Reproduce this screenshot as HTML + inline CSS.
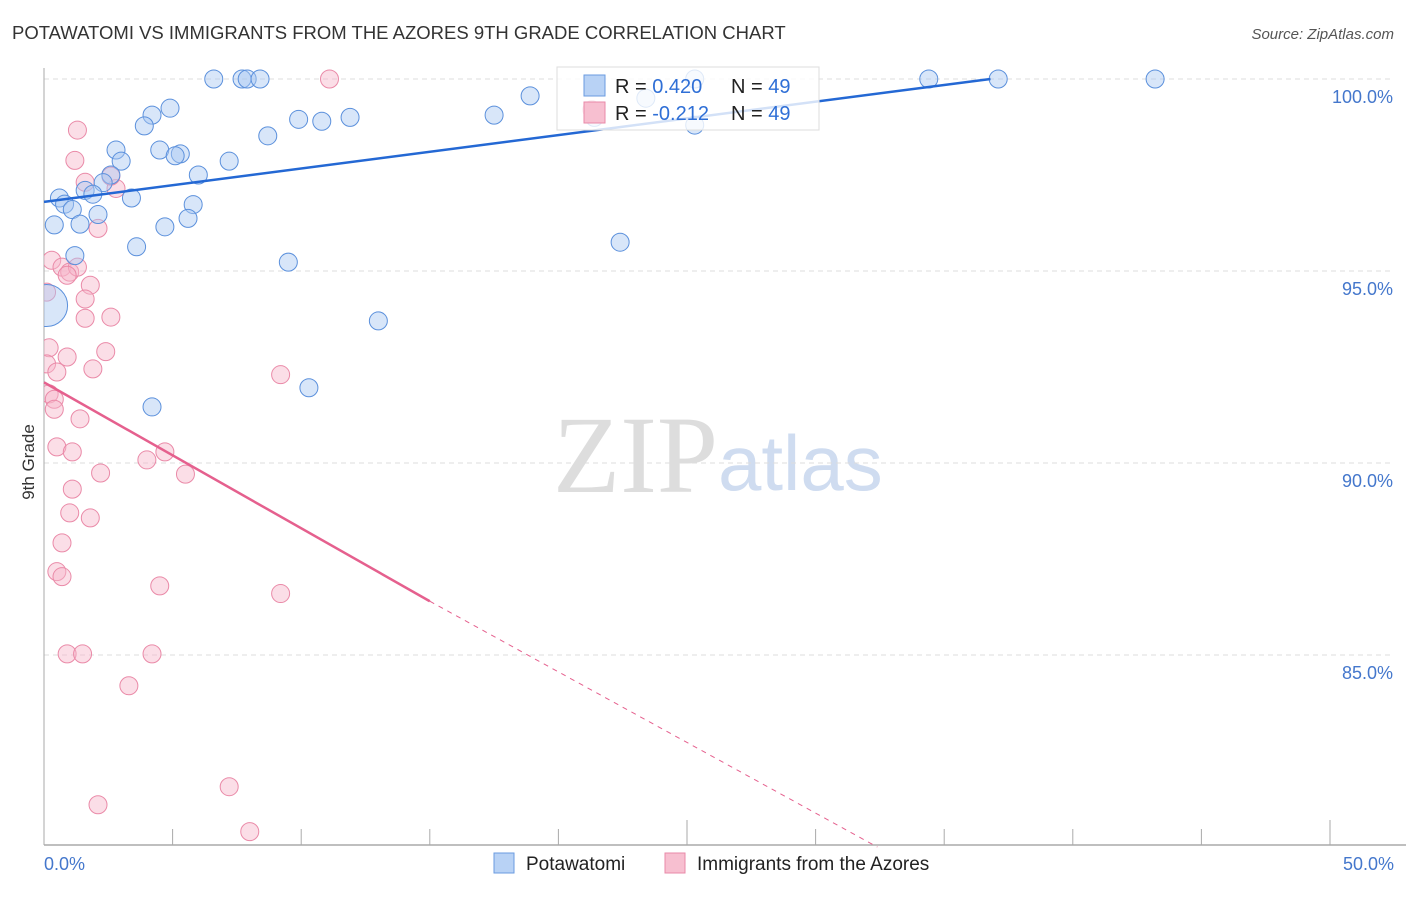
<!DOCTYPE html>
<html><head><meta charset="utf-8"><style>
body{margin:0;background:#fff;font-family:"Liberation Sans",sans-serif}
svg text{font-family:"Liberation Sans",sans-serif}
</style></head><body>
<svg id="c" width="1406" height="892">
<defs><clipPath id="pc"><rect x="44" y="0" width="1362" height="845"/></clipPath></defs>
<text x="12" y="39" font-size="18.5" fill="#333">POTAWATOMI VS IMMIGRANTS FROM THE AZORES 9TH GRADE CORRELATION CHART</text>
<text x="1394" y="39" font-size="15" fill="#555" font-style="italic" text-anchor="end">Source: ZipAtlas.com</text>
<text x="34" y="462" font-size="17" fill="#333" transform="rotate(-90 34 462)" text-anchor="middle">9th Grade</text>
<text x="553" y="492" font-size="110" fill="#ddd" style="font-family:'Liberation Serif',serif">ZIP</text>
<text x="718" y="490" font-size="78" fill="#cfdcf0">atlas</text>
<g id="grid"></g><g id="axes"></g><g id="pts" clip-path="url(#pc)"></g><g id="lines"></g>
<g>
<rect x="557" y="67" width="262" height="63" fill="#fff" fill-opacity="0.8" stroke="#ddd"/>
<rect x="584" y="75" width="21" height="21" fill="#b8d2f5" stroke="#6a9be0"/>
<rect x="584" y="102" width="21" height="21" fill="#f7bfd0" stroke="#e88aa8"/>
<text x="615" y="93" font-size="20" fill="#222">R = <tspan fill="#2f6fd6">0.420</tspan></text>
<text x="731" y="93" font-size="20" fill="#222">N = <tspan fill="#2f6fd6">49</tspan></text>
<text x="615" y="120" font-size="20" fill="#222">R = <tspan fill="#2f6fd6">-0.212</tspan></text>
<text x="731" y="120" font-size="20" fill="#222">N = <tspan fill="#2f6fd6">49</tspan></text>
</g>
<g>
<rect x="494" y="853" width="20" height="20" fill="#b8d2f5" stroke="#6a9be0"/>
<text x="526" y="870" font-size="19" fill="#222">Potawatomi</text>
<rect x="665" y="853" width="20" height="20" fill="#f7bfd0" stroke="#e88aa8"/>
<text x="697" y="870" font-size="19" fill="#222">Immigrants from the Azores</text>
</g>
</svg>
<script>
const yTicks=[100,95,90,85];
const yTickLabels=["100.0%","95.0%","90.0%","85.0%"];
const xTickLabels=["0.0%","50.0%"];
const blueX=[6.6,7.7,7.9,8.4,34.4,37.1,43.2,25.3,18.9,17.5,4.9,4.2,3.9,9.9,10.8,11.9,8.7,4.5,2.8,5.3,5.1,3.0,7.2,6.0,2.6,2.3,1.6,1.9,0.6,0.8,1.1,3.4,2.1,5.8,5.6,0.4,1.4,4.7,3.6,1.2,22.4,9.5,0.1,13.0,10.3,4.2,21.4,23.4,25.3];
const blueY=[100,100,100,100,100,100,100,100,99.56,99.06,99.24,99.06,98.78,98.95,98.9,99.0,98.52,98.15,98.15,98.05,98.0,97.86,97.86,97.5,97.5,97.3,97.1,97.0,96.9,96.74,96.6,96.9,96.47,96.73,96.37,96.2,96.22,96.15,95.63,95.4,95.75,95.23,94.1,93.7,91.96,91.46,99.0,99.5,98.8];
const pinkX=[1.3,1.2,1.6,2.8,2.6,2.1,0.3,0.7,1.0,1.3,0.9,1.8,0.1,1.6,1.6,2.6,0.2,2.4,0.9,0.1,0.5,1.9,9.2,0.2,0.4,0.4,1.4,0.5,1.1,4.7,4.0,2.2,5.5,1.1,1.0,1.8,0.7,0.5,0.7,4.5,9.2,0.9,1.5,4.2,3.3,7.2,2.1,8.0,11.1,21.3];
const pinkY=[98.67,97.88,97.31,97.15,97.47,96.11,95.28,95.1,94.97,95.1,94.89,94.63,94.45,94.27,93.77,93.8,93.0,92.9,92.76,92.58,92.37,92.45,92.3,91.8,91.66,91.4,91.15,90.42,90.29,90.29,90.08,89.74,89.71,89.32,88.7,88.57,87.92,87.17,87.04,86.8,86.6,85.03,85.03,85.03,84.2,81.57,81.1,80.4,100,99.2];
const blueTrend=[0,96.8,36.8,100];
const pinkTrend=[0,92.1,15,86.4,32.4,80.0];
const X=v=>44+v*25.72, Y=v=>79+(100-v)*38.4;
const ns="http://www.w3.org/2000/svg";
function mk(p,t,a){const e=document.createElementNS(ns,t);for(const k in a)e.setAttribute(k,a[k]);document.getElementById(p).appendChild(e);return e;}
yTicks.forEach((t,i)=>{
 const g=mk('grid','line',{x1:44,x2:1394,y1:Y(t),y2:Y(t),stroke:'#ddd','stroke-dasharray':'5,4'});
 
 
 const l=mk('grid','text',{x:1393,y:Y(t)+24,'font-size':18,fill:'#4477cc','text-anchor':'end'});
 l.textContent=yTickLabels[i];
 
 
});
mk('axes','line',{x1:44,x2:44,y1:68,y2:845,stroke:'#aaa'});
const xa=mk('axes','line',{x1:44,x2:1406,y1:845,y2:845,stroke:'#aaa','stroke-width':1.5});


for(let i=0;i<=10;i++){const x=X(i*5);mk('axes','line',{x1:x,x2:x,y1:(i==5||i==10)?820:829,y2:845,stroke:'#aaa'});}
const xl0=mk('axes','text',{x:44,y:870,'font-size':18,fill:'#4477cc'});xl0.textContent=xTickLabels[0];


const xl1=mk('axes','text',{x:1394,y:870,'font-size':18,fill:'#4477cc','text-anchor':'end'});xl1.textContent=xTickLabels[1];


pinkX.forEach((v,i)=>{const c=mk('pts','circle',{cx:X(v),cy:Y(pinkY[i]),r:9,fill:'#f7b6ca','fill-opacity':0.45,stroke:'#ea8aa8','stroke-width':1});
 
 });
blueX.forEach((v,i)=>{const c=mk('pts','circle',{cx:X(v),cy:Y(blueY[i]),r:i==42?21:9,fill:'#a9c8f2','fill-opacity':0.45,stroke:'#5b90dc','stroke-width':1});
 
 });
const bl=mk('lines','line',{x1:X(blueTrend[0]),y1:Y(blueTrend[1]),x2:X(blueTrend[2]),y2:Y(blueTrend[3]),stroke:'#2468d4','stroke-width':2.5});


const pl=mk('lines','line',{x1:X(pinkTrend[0]),y1:Y(pinkTrend[1]),x2:X(pinkTrend[2]),y2:Y(pinkTrend[3]),stroke:'#e5608e','stroke-width':2.5});


const pd=mk('lines','line',{x1:X(pinkTrend[2]),y1:Y(pinkTrend[3]),x2:X(pinkTrend[4]),y2:Y(pinkTrend[5]),stroke:'#e5608e','stroke-width':1,'stroke-dasharray':'5,5'});


</script>
</body></html>
